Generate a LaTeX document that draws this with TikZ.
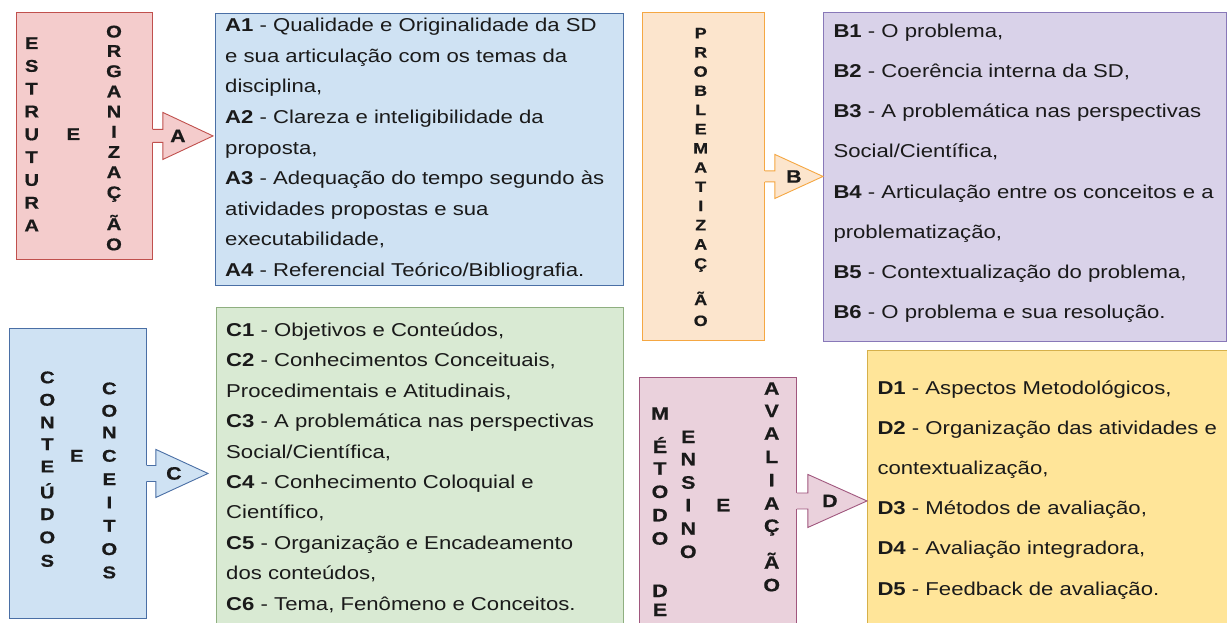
\documentclass[tikz,border=0pt]{standalone}
\usepackage{fontspec}
\setmainfont{Liberation Sans}[FakeStretch=1.19]
\newfontfamily\vfont{Liberation Sans Bold}[FakeStretch=1.19,FakeBold=0.6]
\usetikzlibrary{calc}
\definecolor{fillA}{HTML}{F4CCCC}\definecolor{drawA}{HTML}{C0504D}
\definecolor{fillAB}{HTML}{CFE2F3}\definecolor{drawAB}{HTML}{4A6FA5}
\definecolor{fillB}{HTML}{FCE5CD}\definecolor{drawB}{HTML}{F5A742}
\definecolor{fillBB}{HTML}{D9D2E9}\definecolor{drawBB}{HTML}{8878B8}
\definecolor{fillCB}{HTML}{D9EAD3}\definecolor{drawCB}{HTML}{8FAF80}
\definecolor{fillD}{HTML}{EAD1DC}\definecolor{drawD}{HTML}{A0577E}
\definecolor{fillDB}{HTML}{FFE599}\definecolor{drawDB}{HTML}{D6B04A}
\definecolor{ink}{HTML}{1A1A1A}
\newcommand\barrow[9]{%
  \coordinate (#1-tip) at ($(#2.west |- #1.east)+(#6,0)$);
  \path[#7,draw=none] ($(#1.east)+(-1.5,-#4)$) -- ($(#1.east)+(#3,-#4)$) -- ($(#1.east)+(#3,-#5)$) -- (#1-tip)
     -- ($(#1.east)+(#3,#5)$) -- ($(#1.east)+(#3,#4)$) -- ($(#1.east)+(-1.5,#4)$) -- cycle;
  \path[#7,fill=none,line join=miter] ($(#1.east)+(0,-#4)$) -- ($(#1.east)+(#3,-#4)$) -- ($(#1.east)+(#3,-#5)$) -- (#1-tip)
     -- ($(#1.east)+(#3,#5)$) -- ($(#1.east)+(#3,#4)$) -- ($(#1.east)+(0,#4)$);
  \node[lbl] (#1-lbl) at ($(#1.east)+(#9,0)$) {#8};
}
\newcommand\vcol[4]{\foreach \l/\b [count=\i] in {#4} {\node[vletter,font=\vfont\fontsize{#3}{#3}\selectfont] (#1\i) at (#2,\b) {\l};}}
\begin{document}
\begin{tikzpicture}[x=1pt,y=-1pt,
  box/.style={anchor=north west,line width=0.9pt,inner sep=0pt},
  lbl/.style={font=\vfont\fontsize{18}{18}\selectfont,inner sep=0pt,text=ink},
  vletter/.style={anchor=base,inner sep=0pt,text=ink},
  body/.style={anchor=base west,align=left,inner sep=0pt,text=ink},
  arrA/.style={fill=fillA,draw=drawA,line width=0.9pt},
  arrB/.style={fill=fillB,draw=drawB,line width=0.9pt},
  arrC/.style={fill=fillAB,draw=drawAB,line width=0.9pt},
  arrD/.style={fill=fillD,draw=drawD,line width=0.9pt}]
\useasboundingbox (0,0) rectangle (1227,623);
\fill[white] (0,0) rectangle (1227,623);
% boxes
\node[box,fill=fillA,draw=drawA,minimum width=136pt,minimum height=247pt] (la) at (16,12) {};
\node[box,fill=fillAB,draw=drawAB,minimum width=408pt,minimum height=272pt] (ra) at (215,13) {};
\node[box,fill=fillB,draw=drawB,minimum width=122pt,minimum height=328pt] (lb) at (642,12) {};
\node[box,fill=fillBB,draw=drawBB,minimum width=403pt,minimum height=329pt] (rb) at (823,12) {};
\node[box,fill=fillAB,draw=drawAB,minimum width=137pt,minimum height=290pt] (lc) at (9,328) {};
\node[box,fill=fillCB,draw=drawCB,minimum width=407pt,minimum height=330pt] (rc) at (216,307) {};
\node[box,fill=fillD,draw=drawD,minimum width=157pt,minimum height=247pt] (ld) at (639,377) {};
\node[box,fill=fillDB,draw=drawDB,minimum width=362pt,minimum height=290pt] (rd) at (867,350) {};
% arrows
\barrow{la}{ra}{10}{6.5}{23.5}{-2}{arrA}{A}{25}
\barrow{lb}{rb}{10}{5.5}{22}{0}{arrB}{B}{29}
\barrow{lc}{rc}{9}{8}{24}{-8}{arrC}{C}{27}
\barrow{ld}{rd}{11}{8}{26.5}{0}{arrD}{D}{33}
% vertical letters
\vcol{es}{31.7}{17}{E/49,S/71.8,T/94.6,R/117.4,U/140.2,T/163,U/185.8,R/208.6,A/231.4}
\node[vletter,font=\vfont\fontsize{17}{17}\selectfont] (ea) at (73.3,140) {E};
\vcol{or}{114}{17}{O/37.5,R/56.9,G/77.1,A/97.3,N/117.5,I/137.7,Z/157.9,A/178.1,Ç/198.3,Ã/230,O/250.3}
\vcol{pr}{700.7}{15}{P/38.3,R/57.5,O/76.7,B/95.9,L/115.1,E/134.3,M/153.5,A/172.7,T/191.9,I/211.1,Z/230.3,A/249.5,Ç/268.7,Ã/305,O/326}
\vcol{ct}{47.3}{17}{C/383.3,O/405.7,N/428.3,T/450,E/472.3,Ú/498.3,D/520,O/543.3,S/566.7}
\node[vletter,font=\vfont\fontsize{17}{17}\selectfont] (ec) at (76.7,461.7) {E};
\vcol{cc}{109.3}{17}{C/394.3,O/416.7,N/438.3,C/461.7,E/485,I/508.3,T/531.7,O/555,S/578.3}
\vcol{me}{660}{18}{M/419.7,É/453,T/474.7,O/498,D/521.3,O/544.7,D/597,E/616}
\vcol{en}{688.3}{18}{E/443,N/465.3,S/488.7,I/511.3,N/534.7,O/558}
\node[vletter,font=\vfont\fontsize{18}{18}\selectfont] (ed) at (723.3,511.3) {E};
\vcol{av}{771.7}{18}{A/394.7,V/417,A/439.7,L/463,I/486.3,A/509.7,Ç/532,Ã/568.7,O/591.3}
% body texts (base anchor = last line)
\node[body,font=\fontsize{18.6}{30.6}\selectfont] (ta) at (225,276.5) {%
\textbf{A1} - Qualidade e Originalidade da SD\\
e sua articulação com os temas da\\
disciplina,\\
\textbf{A2} - Clareza e inteligibilidade da\\
proposta,\\
\textbf{A3} - Adequação do tempo segundo às\\
atividades propostas e sua\\
executabilidade,\\
\textbf{A4} - Referencial Teórico/Bibliografia.};
\node[body,font=\fontsize{18.6}{40.1}\selectfont] (tb) at (833.3,318.3) {%
\textbf{B1} - O problema,\\
\textbf{B2} - Coerência interna da SD,\\
\textbf{B3} - A problemática nas perspectivas\\
Social/Científica,\\
\textbf{B4} - Articulação entre os conceitos e a\\
problematização,\\
\textbf{B5} - Contextualização do problema,\\
\textbf{B6} - O problema e sua resolução.};
\node[body,font=\fontsize{18.6}{30.4}\selectfont] (tc) at (226,610) {%
\textbf{C1} - Objetivos e Conteúdos,\\
\textbf{C2} - Conhecimentos Conceituais,\\
Procedimentais e Atitudinais,\\
\textbf{C3} - A problemática nas perspectivas\\
Social/Científica,\\
\textbf{C4} - Conhecimento Coloquial e\\
Científico,\\
\textbf{C5} - Organização e Encadeamento\\
dos conteúdos,\\
\textbf{C6} - Tema, Fenômeno e Conceitos.};
\node[body,font=\fontsize{18.6}{40.2}\selectfont] (td) at (877.3,595) {%
\textbf{D1} - Aspectos Metodológicos,\\
\textbf{D2} - Organização das atividades e\\
contextualização,\\
\textbf{D3} - Métodos de avaliação,\\
\textbf{D4} - Avaliação integradora,\\
\textbf{D5} - Feedback de avaliação.};
\end{tikzpicture}
\end{document}
